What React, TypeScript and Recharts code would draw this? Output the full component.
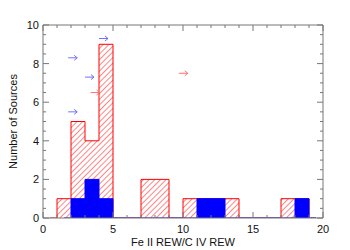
import React from "react";
import {
  ComposedChart,
  Area,
  Scatter,
  XAxis,
  YAxis,
  ReferenceLine,
} from "recharts";

// histogram bins are 1 unit wide, starting at 0
const binStarts = [0, 1, 2, 3, 4, 5, 6, 7, 8, 9, 10, 11, 12, 13, 14, 15, 16, 17, 18, 19];
const allCounts = [0, 1, 5, 4, 9, 0, 0, 2, 2, 0, 1, 1, 1, 1, 0, 0, 0, 1, 1, 0];
const feCounts = [0, 0, 1, 2, 1, 0, 0, 0, 0, 0, 0, 1, 1, 0, 0, 0, 0, 0, 1, 0];
const allStart = 0.5;
const feStart = 1.5;
const histEnd = 19.5;

// lower limits drawn as arrows
const blueArrows = [
  { x: 1.8, y: 8.3 },
  { x: 3.0, y: 7.3 },
  { x: 1.8, y: 5.5 },
  { x: 4.0, y: 9.3 },
];
const redArrows = [
  { x: 3.4, y: 6.5 },
  { x: 9.7, y: 7.5 },
];

const xTicks = [0, 1, 2, 3, 4, 5, 6, 7, 8, 9, 10, 11, 12, 13, 14, 15, 16, 17, 18, 19, 20];
const yTicks = [0, 0.5, 1, 1.5, 2, 2.5, 3, 3.5, 4, 4.5, 5, 5.5, 6, 6.5, 7, 7.5, 8, 8.5, 9, 9.5, 10];

const W = 350;
const H = 250;
const PL = 43;
const PR = 323;
const PT = 25;
const PB = 218;
const FONT = "'Liberation Sans', Arial, sans-serif";
const AXIS = "#777777";

const xs = [allStart, feStart, ...binStarts.slice(1), histEnd].sort((a, b) => a - b);
const histData = xs.map((x) => {
  const i = Math.min(Math.floor(x), binStarts.length - 1);
  return {
    x,
    all: x >= allStart ? allCounts[i] : null,
    fe: x >= feStart ? feCounts[i] : null,
  };
});

const YTick = ({ y, payload }: any) => {
  const major = payload.value % 2 === 0;
  const len = major ? 6 : 3;
  return (
    <g>
      <line x1={PL} x2={PL + len} y1={y} y2={y} stroke={AXIS} />
      <line x1={PR} x2={PR - len} y1={y} y2={y} stroke={AXIS} />
      {major && (
        <text x={PL - 4} y={y} dy="0.36em" textAnchor="end" fontSize={11} fontFamily={FONT} fill="#111">
          {payload.value}
        </text>
      )}
    </g>
  );
};

const XTick = ({ x, payload }: any) => {
  const major = payload.value % 5 === 0;
  const len = major ? 6 : 3;
  return (
    <g>
      <line x1={x} x2={x} y1={PB} y2={PB - len} stroke={AXIS} />
      <line x1={x} x2={x} y1={PT} y2={PT + len} stroke={AXIS} />
      {major && (
        <text x={x} y={PB + 15} textAnchor="middle" fontSize={11} fontFamily={FONT} fill="#111">
          {payload.value}
        </text>
      )}
    </g>
  );
};

const arrowShape = (color: string) => (props: any) => {
  const { cx, cy } = props;
  return (
    <g stroke={color} strokeWidth={1} fill="none">
      <line x1={cx} x2={cx + 9} y1={cy} y2={cy} />
      <polyline points={`${cx + 6},${cy - 2.5} ${cx + 9},${cy} ${cx + 6},${cy + 2.5}`} />
    </g>
  );
};

export default function App() {
  return (
    <div style={{ width: W, height: H }}>
      <style>{`body{margin:0;background:#fff}`}</style>
      <svg width={0} height={0} style={{ position: "absolute" }}>
        <defs>
          <pattern
            id="redHatch"
            patternUnits="userSpaceOnUse"
            width="4"
            height="4"
            patternTransform="rotate(45)"
          >
            <rect x="0" y="0" width="4" height="4" fill="#ffffff" />
            <line x1="0" y1="0" x2="0" y2="4" style={{ stroke: "#ff3333", strokeWidth: 1.2 }} />
          </pattern>
        </defs>
      </svg>
      <ComposedChart
        width={W}
        height={H}
        data={histData}
        margin={{ top: PT, right: W - PR, bottom: 0, left: 0 }}
      >
        <XAxis
          dataKey="x"
          type="number"
          domain={[0, 20]}
          ticks={xTicks}
          interval={0}
          tickSize={0}
          tickMargin={0}
          tickLine={false}
          tick={<XTick />}
          height={H - PB}
          stroke={AXIS}
          allowDataOverflow
          label={{
            content: () => (
              <text x={(PL + PR) / 2} y={246} textAnchor="middle" fontSize={11} fontFamily={FONT} fill="#111">
                Fe II REW/C IV REW
              </text>
            ),
          }}
        />
        <YAxis
          type="number"
          domain={[0, 10]}
          ticks={yTicks}
          interval={0}
          tickSize={0}
          tickMargin={0}
          tickLine={false}
          tick={<YTick />}
          width={PL}
          stroke={AXIS}
          allowDataOverflow
          label={{
            content: () => (
              <text
                x={13}
                y={(PT + PB) / 2}
                transform={`rotate(-90 13 ${(PT + PB) / 2})`}
                textAnchor="middle"
                dominantBaseline="central"
                fontSize={11}
                fontFamily={FONT}
                fill="#111"
              >
                Number of Sources
              </text>
            ),
          }}
        />
        <ReferenceLine y={10} stroke={AXIS} />
        <ReferenceLine x={20} stroke={AXIS} />
        <Area
          type="stepAfter"
          dataKey="all"
          stroke="#ff0000"
          strokeWidth={1}
          fill="url(#redHatch)"
          fillOpacity={1}
          dot={false}
          activeDot={false}
          isAnimationActive={false}
        />
        <Area
          type="stepAfter"
          dataKey="fe"
          stroke="#0000ff"
          strokeWidth={1}
          fill="#0000ff"
          fillOpacity={1}
          dot={false}
          activeDot={false}
          isAnimationActive={false}
        />
        <Scatter data={blueArrows} dataKey="y" shape={arrowShape("#7070ff")} isAnimationActive={false} />
        <Scatter data={redArrows} dataKey="y" shape={arrowShape("#ff7070")} isAnimationActive={false} />
      </ComposedChart>
    </div>
  );
}
